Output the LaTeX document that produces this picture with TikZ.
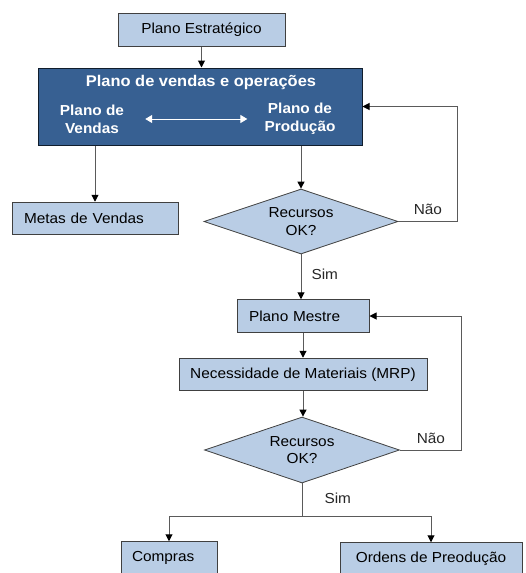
\documentclass[tikz,border=0pt]{standalone}
\usepackage{fontspec}
\setmainfont{Liberation Sans}[FakeStretch=1.06]
\usetikzlibrary{arrows.meta,shapes.geometric}
\definecolor{boxfill}{HTML}{B9CDE5}
\definecolor{sopfill}{HTML}{376092}
\definecolor{edgegray}{HTML}{404040}
\definecolor{linegray}{HTML}{5A5A5A}

\begin{document}
\begin{tikzpicture}[x=1pt,y=-1pt,font=\fontsize{14.5}{17.5}\selectfont]
\tikzstyle{every node}=[inner sep=0pt]
\tikzstyle{box}=[draw=edgegray,fill=boxfill,line width=1pt,rectangle,minimum height=32.5pt]
\tikzstyle{test}=[draw=edgegray,fill=boxfill,line width=0.8pt,diamond,aspect=3,minimum width=194pt,minimum height=65pt,align=center]
\tikzstyle{flow}=[draw=linegray,line width=1pt,-{Triangle[black,length=7pt,width=7pt]}]
\tikzstyle{lab}=[text=black!85]
\useasboundingbox (0,0) rectangle (526,573);
\clip (0,0) rectangle (526,573);
\draw (201.5,30) node (estr) [box,minimum width=167pt] {Plano Estratégico};
\draw (200,106.5) node (sop) [draw=black!70!sopfill,fill=sopfill,line width=1pt,minimum width=324pt,minimum height=77pt] {};
\draw (201,82) node (sopt) [text=white,font=\fontsize{15.5}{17.5}\selectfont\bfseries] {Plano de vendas e operações};
\draw (92,119) node (pv) [text=white,align=center,font=\fontsize{14.5}{18}\selectfont\bfseries] {Plano de\\Vendas};
\draw (300,119) node (pp) [text=white,align=center,font=\fontsize{14.5}{18}\selectfont\bfseries] {Plano de\\Produção};
\draw (95,218.5) node (metas) [box,text width=142pt,inner xsep=12pt,align=left] {Metas de Vendas};
\draw (301,221.5) node (rec1) [test] {Recursos\\OK?};
\draw (303,316) node (pm) [box,text width=108pt,inner xsep=12pt,align=left] {Plano Mestre};
\draw (303,374.5) node (mrp) [box,minimum width=248pt] {Necessidade de Materiais (MRP)};
\draw (302,450) node (rec2) [test,minimum width=195pt,minimum height=66pt] {Recursos\\OK?};
\draw (169,558) node (compras) [box,text width=74pt,inner xsep=11pt,align=left] {Compras};
\draw (431,559) node (ordens) [box,minimum width=182pt] {Ordens de Preodução};
\coordinate (split) at (302,516);
\draw [line width=1pt,white,{Triangle[white,length=7pt,width=8pt]}-{Triangle[white,length=7pt,width=8pt]},shorten <=21pt,shorten >=17pt] (pv.east |- 0,119) -- (pp.west |- 0,119);
\draw [flow] (estr) -- (estr |- sop.north);
\draw [flow] (sop.south -| metas.north) -- (metas);
\draw [flow] (sop.south -| rec1.north) -- (rec1);
\draw [flow] (rec1.east) -- node [lab,above=6pt] {Não} ++(59,0) |- (sop.east);
\draw [flow] (rec1) -- node [lab,pos=0.45,right=10pt] {Sim} (rec1.south |- pm.north);
\draw [flow] (pm) -- (pm.south |- mrp.north);
\draw [flow] (mrp) -- (mrp.south |- rec2.north);
\draw [flow] (rec2.east) -- node [lab,above=6pt] {Não} ++(62,0) |- (pm.east);
\draw [line width=1pt,draw=linegray] (rec2.south) -- node [lab,pos=0.45,right=22pt] {Sim} (split);
\draw [flow] (split) -| (compras.north);
\draw [flow] (split) -| (ordens.north);
\end{tikzpicture}
\end{document}
